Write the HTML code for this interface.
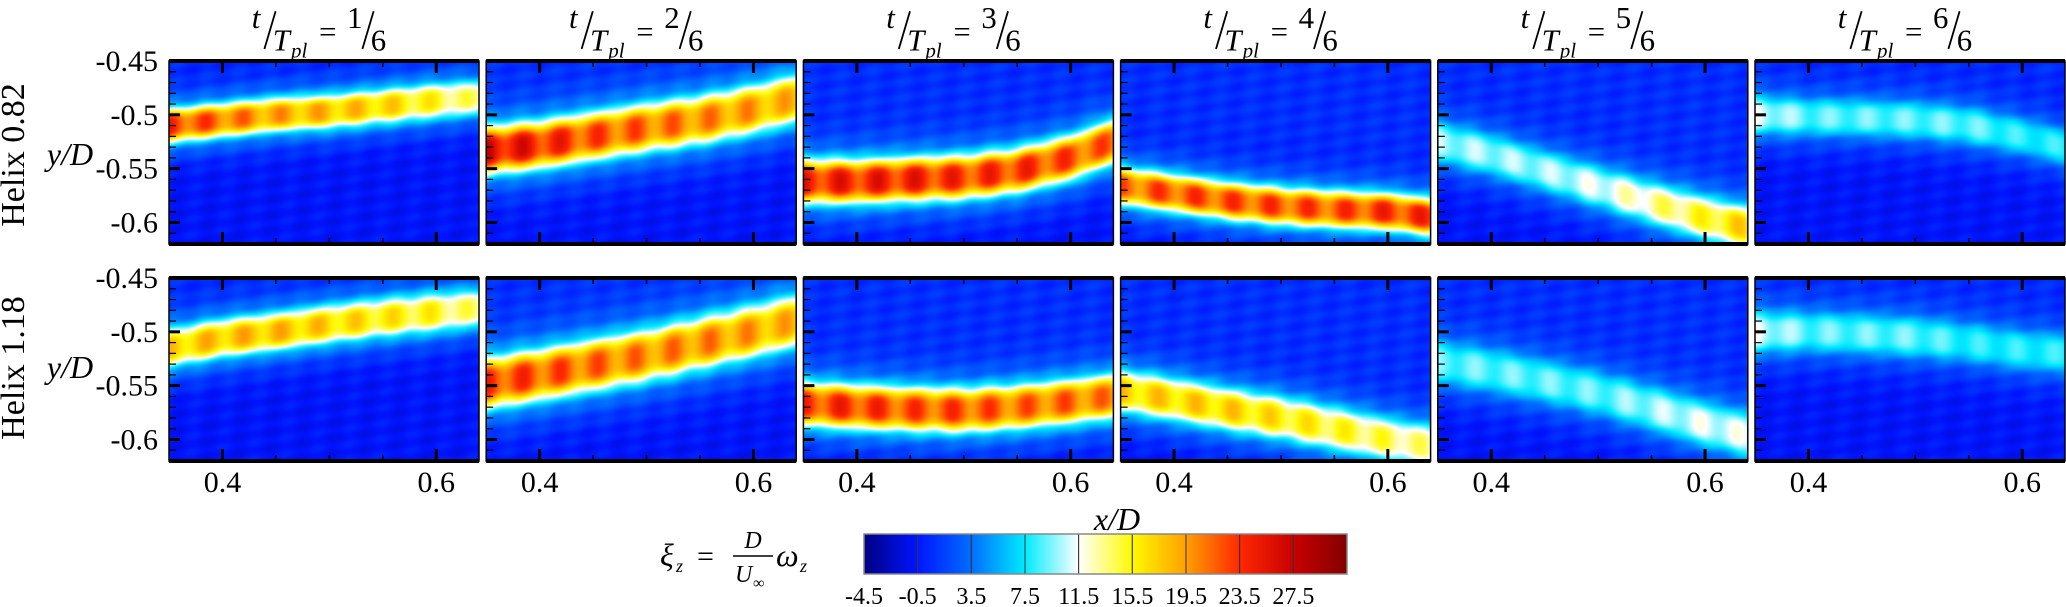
<!DOCTYPE html>
<html><head><meta charset="utf-8">
<style>
body{margin:0;background:#fff;width:2066px;height:607px;overflow:hidden;position:relative;font-family:"Liberation Serif",serif;}
canvas{position:absolute;}
#ov{position:absolute;left:0;top:0;}
</style></head><body>
<svg id="ov" width="2066" height="607"></svg>
<script>
// ---- data (y/D centerline of the vortex band sampled at xs, and peak vorticity) ----
const xs = [0.35,0.40,0.45,0.50,0.55,0.60,0.64];
const titles = ["1","2","3","4","5","6"];
const rowLabels = ["Helix 0.82","Helix 1.18"];
const yTicks = [-0.45,-0.5,-0.55,-0.6];
const yTickLabels = ["-0.45","-0.5","-0.55","-0.6"];
const xTicks = [0.4,0.6];
const xTickLabels = ["0.4","0.6"];
const cbLevels = [-4.5,-0.5,3.5,7.5,11.5,15.5,19.5,23.5,27.5,31.5];
const cbLabels = ["-4.5","-0.5","3.5","7.5","11.5","15.5","19.5","23.5","27.5"];
const center_r1 = [
 [-0.510,-0.505,-0.500,-0.497,-0.492,-0.487,-0.484],
 [-0.533,-0.528,-0.520,-0.512,-0.505,-0.495,-0.485],
 [-0.562,-0.562,-0.560,-0.558,-0.552,-0.540,-0.525],
 [-0.566,-0.573,-0.580,-0.585,-0.588,-0.590,-0.595],
 [-0.525,-0.537,-0.552,-0.567,-0.582,-0.596,-0.605],
 [-0.500,-0.502,-0.503,-0.505,-0.510,-0.520,-0.530]];
const peak_r1 = [
 [23,21,19,18,17,15,13],
 [26,24,22,21,20,19,18],
 [24,24,24,23,23,22,21],
 [21,22,22,22,22,23,23],
 [10,10,10,11,13,15,17],
 [11,9,9,9,9,8,8]];
const center_r2 = [
 [-0.515,-0.506,-0.500,-0.493,-0.487,-0.482,-0.478],
 [-0.548,-0.540,-0.531,-0.522,-0.511,-0.500,-0.490],
 [-0.567,-0.570,-0.572,-0.573,-0.570,-0.565,-0.560],
 [-0.555,-0.563,-0.572,-0.580,-0.590,-0.600,-0.606],
 [-0.528,-0.536,-0.546,-0.557,-0.571,-0.586,-0.596],
 [-0.500,-0.500,-0.502,-0.505,-0.510,-0.517,-0.520]];
const peak_r2 = [
 [17,18,18,17,16,15,13],
 [23,22,21,20,20,19,18],
 [23,23,22,22,21,21,20],
 [17,17,17,16,15,14,13],
 [9,9,9,9,10,11,11],
 [11,9,9,9,8,8,8]];
const width_r1 = [0.010,0.014,0.013,0.011,0.012,0.011];
const width_r2 = [0.011,0.015,0.013,0.012,0.013,0.012];

// ---- layout ----
const X0=0.35,X1=0.64,Y0=-0.45,Y1=-0.62;
const panelLeft0=169, panelStep=317.2, panelW=310, panelH=183;
const rowTop=[61,278];
function px(col,x){return panelLeft0+col*panelStep+(x-X0)/(X1-X0)*panelW;}
function py(row,y){return rowTop[row]+(y-Y0)/(Y1-Y0)*panelH;}

const cmapStops=[[-4.5,[0,0,130]],[-0.5,[0,20,255]],[3.5,[0,110,255]],[7.5,[0,235,255]],[11.5,[255,255,255]],[15.5,[255,250,0]],[19.5,[255,160,0]],[23.5,[255,40,0]],[27.5,[200,0,0]],[31.5,[130,0,0]]];
function cmap(v){
  if(v<=cmapStops[0][0])return cmapStops[0][1];
  for(let i=1;i<cmapStops.length;i++){
    if(v<=cmapStops[i][0]){const a=cmapStops[i-1],b=cmapStops[i],t=(v-a[0])/(b[0]-a[0]);
      return [0,1,2].map(k=>Math.round(a[1][k]+(b[1][k]-a[1][k])*t));}
  }
  return cmapStops[cmapStops.length-1][1];
}
function interp(arr,x){
  if(x<=xs[0])return arr[0];
  for(let i=1;i<xs.length;i++){if(x<=xs[i]){const t=(x-xs[i-1])/(xs[i]-xs[i-1]);return arr[i-1]+(arr[i]-arr[i-1])*t;}}
  return arr[arr.length-1];
}
const NS='http://www.w3.org/2000/svg';
const ov=document.getElementById('ov');
function sv(tag,attrs,parent){const e=document.createElementNS(NS,tag);for(const k in attrs)e.setAttribute(k,attrs[k]);(parent||ov).appendChild(e);return e;}

const centers=[center_r1,center_r2], peaks=[peak_r1,peak_r2], widths=[width_r1,width_r2];
for(let r=0;r<2;r++){
 for(let c=0;c<6;c++){
  const cv=document.createElement('canvas');
  
  
  const L=Math.round(px(c,X0)), W=Math.round(panelW), H=panelH;
  cv.width=W;cv.height=H;cv.style.left=L+'px';cv.style.top=rowTop[r]+'px';
  document.body.insertBefore(cv,ov);
  const ctx=cv.getContext('2d');const img=ctx.createImageData(W,H);
  for(let j=0;j<H;j++){
   const y=Y0+(j+0.5)/H*(Y1-Y0);
   for(let i=0;i<W;i++){
    const x=X0+(i+0.5)/W*(X1-X0);
    const cy=interp(centers[r][c],x), pk=interp(peaks[r][c],x), s=widths[r][c];
    const d=(y-cy)/s;
    const bg=-0.6+0.8*Math.sin(i*0.13+j*0.21)*Math.cos(i*0.07-j*0.19)+1.2*Math.max(0,Math.min(1,(y-cy-0.01)/0.06));
    const mod=1+0.10*Math.cos((x-0.35)/0.035*2*Math.PI);
    const core=Math.exp(-0.5*d*d*d*d/(1+0.5*d*d));
    const halo=Math.exp(-0.5*(d/1.8)*(d/1.8));
    const v=bg+(pk*mod-bg)*core+(1-core)*Math.min(9,pk*0.6)*halo;
    const col=cmap(v);const o=(j*W+i)*4;
    img.data[o]=col[0];img.data[o+1]=col[1];img.data[o+2]=col[2];img.data[o+3]=255;
   }
  }
  ctx.putImageData(img,0,0);
  const L2=px(c,X0),R2=px(c,X1),T=py(r,Y0),B=py(r,Y1);
  const fr=sv('rect',{x:L2,y:T,width:R2-L2,height:B-T,fill:'none',stroke:'#000','stroke-width':1.5});
  
  sv('line',{x1:L2,x2:R2,y1:T,y2:T,stroke:'#000','stroke-width':4});
  sv('line',{x1:L2,x2:R2,y1:B,y2:B,stroke:'#000','stroke-width':4});
  for(let xv=0.40;xv<0.641;xv+=0.05){
   const X=px(c,xv);const major=Math.abs(xv-0.4)<1e-6||Math.abs(xv-0.6)<1e-6;const len=major?12:6;
   sv('line',{x1:X,x2:X,y1:T,y2:T+len,stroke:'#000','stroke-width':major?3:1.5});
   sv('line',{x1:X,x2:X,y1:B,y2:B-len,stroke:'#000','stroke-width':major?3:1.5});
  }
  for(let k=0;k<=16;k++){
   const yv=-0.46-k*0.01;const Y=py(r,yv);if(Y>B-1)break;
   sv('line',{x1:L2,x2:L2+7,y1:Y,y2:Y,stroke:'#000','stroke-width':1.2});
  }
  yTicks.forEach(yv=>{const Y=py(r,yv);sv('line',{x1:L2,x2:L2+11,y1:Y,y2:Y,stroke:'#000','stroke-width':3});});
  if(r===1){
   xTicks.forEach((xv,k)=>{const t=sv('text',{x:px(c,xv),y:492,'text-anchor':'middle','font-size':30,'font-family':'Liberation Serif, serif'});t.textContent=xTickLabels[k];
    });
  }
  if(c===0){
   yTicks.forEach((yv,k)=>{const t=sv('text',{x:158,y:py(r,yv)+10,'text-anchor':'end','font-size':30,'font-family':'Liberation Serif, serif'});t.textContent=yTickLabels[k];
    });
  }
 }
 const cy=r===0?155:368;
 const hl=sv('text',{x:0,y:0,transform:'translate(24,'+cy+') rotate(-90)','text-anchor':'middle','font-size':34,'font-family':'Liberation Serif, serif'});
 hl.textContent=rowLabels[r];
 const yl=sv('text',{x:70,y:cy+10,'text-anchor':'middle','font-size':32,'font-style':'italic','font-family':'Liberation Serif, serif'});
 yl.textContent='y/D';
}
// titles
for(let c=0;c<6;c++){
 const cx=px(c,(X0+X1)/2);
 const g=sv('g',{transform:'translate('+(cx-75)+',0) scale(1.4)','font-family':'Liberation Serif, serif'});
 
 sv('text',{x:2,y:20,'font-size':22,'font-style':'italic'},g).textContent='t';
 sv('line',{x1:19,y1:8,x2:11,y2:35,stroke:'#000','stroke-width':1.3},g);
 sv('text',{x:17,y:36,'font-size':22,'font-style':'italic'},g).textContent='T';
 sv('text',{x:30,y:41,'font-size':15,'font-style':'italic'},g).textContent='pl';
 sv('text',{x:50,y:30,'font-size':22},g).textContent='=';
 sv('text',{x:70,y:20,'font-size':22},g).textContent=titles[c];
 sv('line',{x1:89,y1:8,x2:81,y2:35,stroke:'#000','stroke-width':1.3},g);
 sv('text',{x:87,y:36,'font-size':22},g).textContent='6';
}
// x axis title
const xt=sv('text',{x:1117,y:530,'text-anchor':'middle','font-size':32,'font-style':'italic','font-family':'Liberation Serif, serif'});
xt.textContent='x/D';
// colorbar formula
const fg=sv('g',{'font-family':'Liberation Serif, serif'});

sv('text',{x:660,y:566,'font-size':32,'font-style':'italic'},fg).textContent='ξ';
sv('text',{x:676,y:572,'font-size':18,'font-style':'italic'},fg).textContent='z';
sv('text',{x:697,y:566,'font-size':30},fg).textContent='=';
sv('text',{x:753,y:548,'font-size':24,'font-style':'italic','text-anchor':'middle'},fg).textContent='D';
sv('line',{x1:733,x2:773,y1:556,y2:556,stroke:'#000','stroke-width':1.5},fg);
sv('text',{x:735,y:582,'font-size':24,'font-style':'italic'},fg).textContent='U';
sv('text',{x:753,y:588,'font-size':16},fg).textContent='∞';
sv('text',{x:776,y:566,'font-size':32,'font-style':'italic'},fg).textContent='ω';
sv('text',{x:800,y:572,'font-size':18,'font-style':'italic'},fg).textContent='z';
// colorbar
const cbL=864,cbR=1347,cbT=534,cbB=574;
const cbScale=v=>cbL+(v-cbLevels[0])/(cbLevels[cbLevels.length-1]-cbLevels[0])*(cbR-cbL);
const defs=sv('defs',{});
for(let i=0;i<cbLevels.length-1;i++){
 const gid='g'+i;const lg=sv('linearGradient',{id:gid,x1:0,x2:1,y1:0,y2:0},defs);
 for(let k=0;k<=4;k++){const v=cbLevels[i]+k/4*(cbLevels[i+1]-cbLevels[i]);const col=cmap(v);
  sv('stop',{offset:k/4,'stop-color':'rgb('+col.join(',')+')'},lg);}
 const rc=sv('rect',{x:cbScale(cbLevels[i]),y:cbT,width:cbScale(cbLevels[i+1])-cbScale(cbLevels[i]),height:cbB-cbT,fill:'url(#'+gid+')',stroke:'#333','stroke-width':1});
 
}
sv('rect',{x:cbL,y:cbT,width:cbR-cbL,height:cbB-cbT,fill:'none',stroke:'#888','stroke-width':1.5});
cbLabels.forEach((l,i)=>{const t=sv('text',{x:cbScale(cbLevels[i]),y:604,'text-anchor':'middle','font-size':24,'font-family':'Liberation Serif, serif'});t.textContent=l;
 });
</script>
</body></html>
